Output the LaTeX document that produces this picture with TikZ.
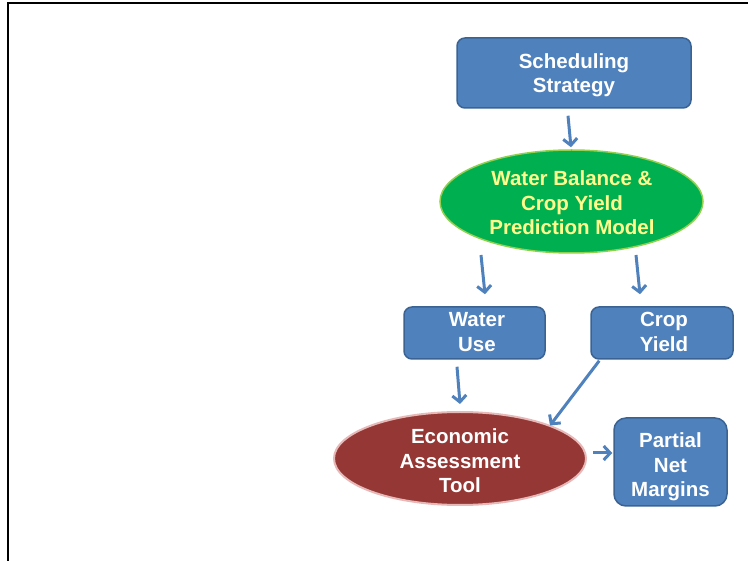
\documentclass[tikz,border=0pt]{standalone}
\usepackage{fontspec}
\setmainfont{Liberation Sans}
\usetikzlibrary{shapes.geometric,arrows.meta,calc}
\definecolor{boxblue}{HTML}{4F81BD}
\definecolor{boxedge}{HTML}{3A6393}
\definecolor{modelgreen}{HTML}{00B050}
\definecolor{modeledge}{HTML}{92D050}
\definecolor{modeltext}{HTML}{FFFF8C}
\definecolor{econred}{HTML}{953735}
\definecolor{econedge}{HTML}{E6B9B8}
\tikzset{
  txt/.style={font=\bfseries\fontsize{20.5}{24.5}\selectfont, align=center, inner sep=0pt},
  bluebox/.style={draw=boxedge, line width=1.5pt, fill=boxblue, rounded corners=8pt},
  arr/.style={draw=boxblue, line width=3pt, -{Straight Barb[length=6.5pt,width=14pt]}},
}
\begin{document}
\begin{tikzpicture}[x=1pt,y=-1pt]
\useasboundingbox (0,0) rectangle (748,561);
\draw[line width=2.5pt] (8,561) -- (8,3) -- (748,3);

\node[bluebox, minimum width=234pt, minimum height=70pt] (sched) at (574,73) {};
\node[txt, text=white] (schedt) at (574,75) {Scheduling\\Strategy};
\node[ellipse, draw=modeledge, line width=1.5pt, fill=modelgreen,
      minimum width=263pt, minimum height=103pt] (wb) at (571.5,201.5) {};
\node[txt, text=modeltext] (wbt) at (572,203) {Water Balance \&\\Crop Yield\\Prediction Model};
\node[bluebox, minimum width=141pt, minimum height=52pt] (wu) at (474.5,333) {};
\node[txt, text=white] (wut) at (477,332) {Water\\Use};
\node[bluebox, minimum width=142pt, minimum height=52pt] (cy) at (662,333) {};
\node[txt, text=white] (cyt) at (664,332) {Crop\\Yield};
\node[ellipse, draw=econedge, line width=2pt, fill=econred,
      minimum width=252pt, minimum height=93pt] (econ) at (460,458.5) {};
\node[txt, text=white] (econt) at (460,461) {Economic\\Assessment\\Tool};
\node[bluebox, rounded corners=12pt, minimum width=113pt, minimum height=88pt] (pnm) at (670.5,462) {};
\node[txt, text=white] (pnmt) at (670.5,467) {Partial\\Net\\Margins};

\draw[arr] ($(sched.south)+(-6,7)$) -- ($(wb.north)+(-0.5,-2)$);
\draw[arr] ($(wb.center)+(-90.5,53.5)$) -- ($(wu.north)+(10.5,-12)$);
\draw[arr] ($(wb.center)+(64.5,53.5)$) -- ($(cy.north)+(-22,-12)$);
\draw[arr] ($(wu.south)+(-17.5,7)$) -- ($(econ.north)+(0,-7)$);
\draw[arr] ($(cy.south west)+(9,1)$) -- ($(econ.center)+(90,-33)$);
\draw[arr] ($(econ.east)+(6,-5.5)$) -- ($(pnm.west)+(-1,-9)$);
\end{tikzpicture}
\end{document}
